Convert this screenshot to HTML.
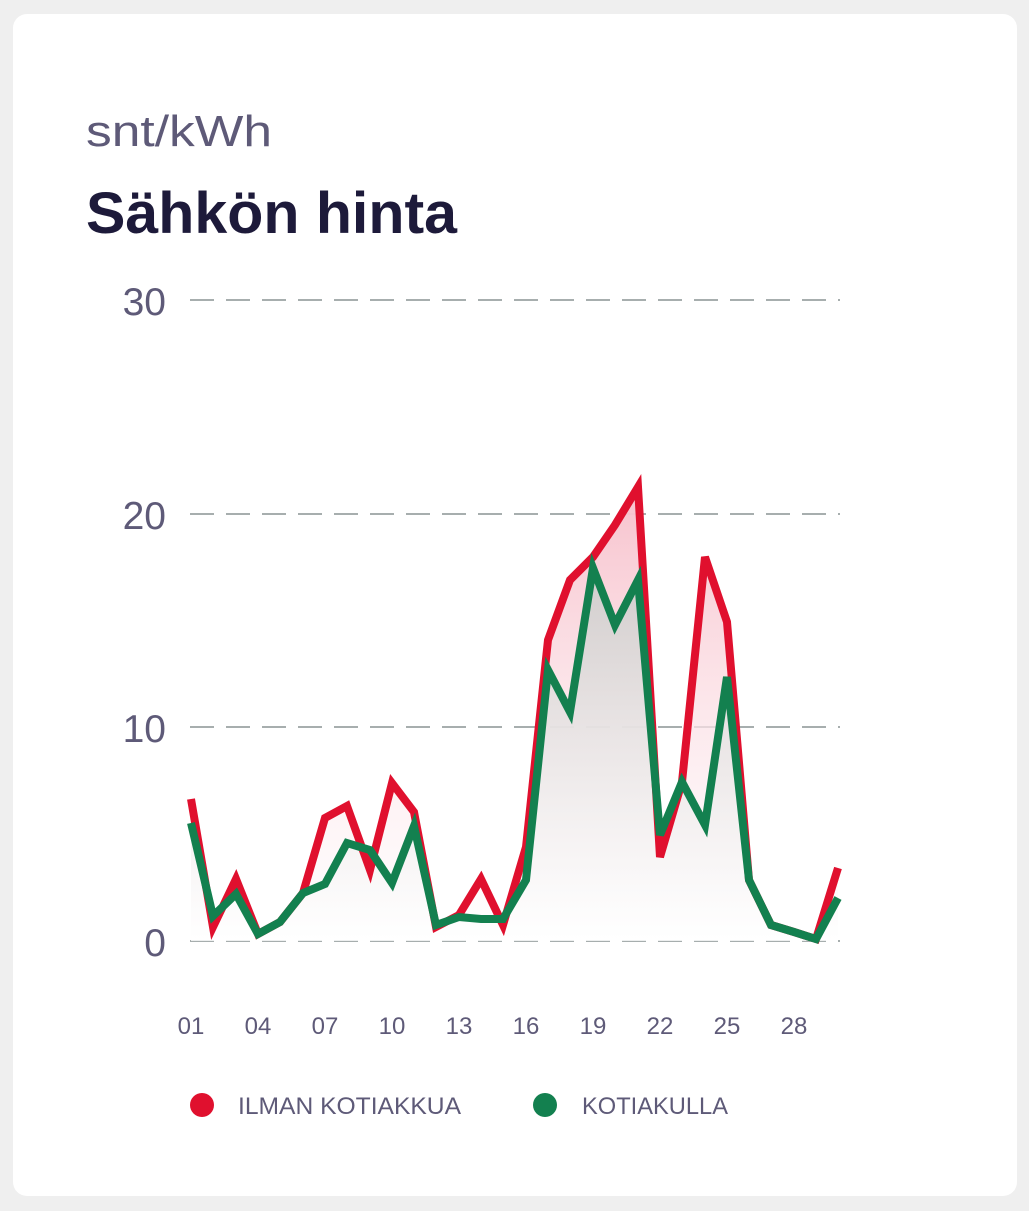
<!DOCTYPE html>
<html><head><meta charset="utf-8"><style>
body{margin:0;background:#efefef;width:1029px;height:1211px;overflow:hidden;font-family:"Liberation Sans",sans-serif}
.card{position:absolute;left:13px;top:14px;width:1004px;height:1182px;background:#fff;border-radius:14px}
</style></head><body>
<div class="card"></div>
<svg width="1029" height="1211" style="position:absolute;left:0;top:0" font-family="Liberation Sans, sans-serif">
<defs>
<linearGradient id="gp" x1="0" y1="480" x2="0" y2="941" gradientUnits="userSpaceOnUse"><stop offset="0" stop-color="#f7c0cb"/><stop offset="1" stop-color="#ffffff" stop-opacity="0.5"/></linearGradient>
<linearGradient id="gg" x1="0" y1="560" x2="0" y2="941" gradientUnits="userSpaceOnUse"><stop offset="0" stop-color="#cfcccb"/><stop offset="1" stop-color="#ffffff" stop-opacity="0.6"/></linearGradient>
</defs>
<text x="86" y="146" font-size="44" fill="#5e5a78" textLength="186" lengthAdjust="spacingAndGlyphs">snt/kWh</text>
<text x="86" y="233" font-size="58" font-weight="bold" fill="#1d1a3a" textLength="371" lengthAdjust="spacingAndGlyphs">Sähkön hinta</text>
<g stroke="#8a9494" stroke-width="1.5" stroke-dasharray="24,12">
<line x1="190" y1="300" x2="840" y2="300"/><line x1="190" y1="514" x2="840" y2="514"/><line x1="190" y1="727" x2="840" y2="727"/><line x1="190" y1="941" x2="840" y2="941"/>
</g>
<g font-size="39" fill="#5e5a78" text-anchor="end">
<text x="166" y="315">30</text><text x="166" y="529">20</text><text x="166" y="742">10</text><text x="166" y="956">0</text>
</g>
<g font-size="24" fill="#5e5a78" text-anchor="middle">
<text x="191" y="1034">01</text><text x="258" y="1034">04</text><text x="325" y="1034">07</text><text x="392" y="1034">10</text><text x="459" y="1034">13</text><text x="526" y="1034">16</text><text x="593" y="1034">19</text><text x="660" y="1034">22</text><text x="727" y="1034">25</text><text x="794" y="1034">28</text>
</g>
<path fill="url(#gp)" d="M191,941 L191,799 213,927 236,879 258,934 280,922 303,893 325,818 347,806 370,870 392,783 414,812 436,927 459,915 481,879 503,925 526,847 548,640 570,580 593,557 615,525 638,487 660,857 682,782 705,557 727,622 749,880 771,925 794,932 816,939 838,868 L838,941Z"/>
<path fill="url(#gg)" d="M191,941 L191,823 213,916 236,894 258,934 280,922 303,893 325,884 347,843 370,850 392,883 414,826 436,925 459,917 481,919 503,919 526,880 548,670 570,712 593,568 615,625 638,580 660,835 682,782 705,825 727,677 749,880 771,925 794,932 816,939 838,898 L838,941Z"/>
<polyline fill="none" stroke="#e0102e" stroke-width="8" stroke-linejoin="miter" points="191,799 213,927 236,879 258,934 280,922 303,893 325,818 347,806 370,870 392,783 414,812 436,927 459,915 481,879 503,925 526,847 548,640 570,580 593,557 615,525 638,487 660,857 682,782 705,557 727,622 749,880 771,925 794,932 816,939 838,868"/>
<polyline fill="none" stroke="#13804f" stroke-width="8" stroke-linejoin="miter" points="191,823 213,916 236,894 258,934 280,922 303,893 325,884 347,843 370,850 392,883 414,826 436,925 459,917 481,919 503,919 526,880 548,670 570,712 593,568 615,625 638,580 660,835 682,782 705,825 727,677 749,880 771,925 794,932 816,939 838,898"/>
<circle cx="202" cy="1105" r="12" fill="#e0102e"/>
<circle cx="545" cy="1105" r="12" fill="#13804f"/>
<g font-size="24" fill="#5e5a78"><text x="238" y="1114" textLength="223" lengthAdjust="spacingAndGlyphs">ILMAN KOTIAKKUA</text><text x="582" y="1114" textLength="146" lengthAdjust="spacingAndGlyphs">KOTIAKULLA</text></g>
</svg>
</body></html>
